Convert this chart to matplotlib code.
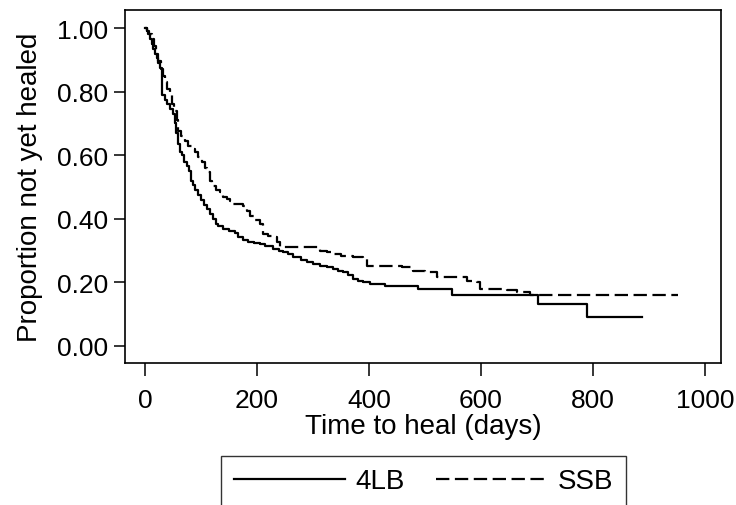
import matplotlib
matplotlib.use("Agg")
import matplotlib.pyplot as plt

# Kaplan-Meier step data (days, proportion not yet healed)
t_4lb = [0, 3, 6, 9, 12, 15, 18, 21, 24, 27, 31, 36, 40, 45, 50, 54, 56, 59, 63, 66,
         70, 75, 79, 83, 86, 90, 95, 100, 105, 110, 116, 122, 127, 131, 140, 150, 161,
         166, 175, 184, 195, 205, 215, 229, 240, 247, 255, 265, 278, 289, 300, 312, 325,
         336, 345, 354, 362, 372, 380, 390, 402, 428, 488, 548, 702, 789, 887]
s_4lb = [1.0, 0.99, 0.98, 0.965, 0.95, 0.935, 0.92, 0.905, 0.89, 0.875, 0.79, 0.775,
         0.76, 0.745, 0.73, 0.70, 0.67, 0.635, 0.61, 0.60, 0.58, 0.565, 0.55, 0.52, 0.505,
         0.49, 0.475, 0.46, 0.445, 0.43, 0.415, 0.40, 0.385, 0.377, 0.368, 0.362, 0.355,
         0.343, 0.335, 0.327, 0.324, 0.321, 0.313, 0.305, 0.30, 0.296, 0.288, 0.28, 0.272,
         0.264, 0.258, 0.252, 0.247, 0.242, 0.237, 0.232, 0.222, 0.21, 0.205, 0.20, 0.195,
         0.189, 0.178, 0.16, 0.132, 0.091, 0.091]

t_ssb = [0, 4, 8, 12, 16, 20, 24, 28, 32, 36, 40, 44, 48, 52, 57, 59, 64, 71, 77, 84,
         89, 95, 102, 107, 111, 116, 120, 127, 134, 140, 146, 152, 157, 175, 182, 188,
         196, 205, 211, 220, 229, 235, 241, 312, 325, 336, 350, 372, 389, 396, 459, 479,
         500, 521, 575, 593, 598, 646, 664, 688, 952]
s_ssb = [1.0, 0.99, 0.98, 0.965, 0.945, 0.92, 0.895, 0.87, 0.85, 0.83, 0.81, 0.79, 0.76,
         0.74, 0.71, 0.675, 0.66, 0.645, 0.63, 0.62, 0.61, 0.595, 0.578, 0.56, 0.547, 0.52,
         0.503, 0.49, 0.484, 0.47, 0.462, 0.455, 0.447, 0.44, 0.425, 0.409, 0.395, 0.384,
         0.352, 0.347, 0.343, 0.327, 0.311, 0.30, 0.296, 0.289, 0.283, 0.28, 0.274, 0.252,
         0.248, 0.236, 0.233, 0.217, 0.204, 0.20, 0.18, 0.176, 0.17, 0.16, 0.16]

x_ticks = [0, 200, 400, 600, 800, 1000]
y_ticks = [0.0, 0.2, 0.4, 0.6, 0.8, 1.0]

plt.rcParams["font.family"] = ["Liberation Sans", "DejaVu Sans"]
fs = 19
fs_title = 20

fig = plt.figure(figsize=(7.36, 5.06), dpi=100)
ax = fig.add_axes([125 / 736, 1 - 364 / 506, 596 / 736, 353 / 506])

ax.step(t_4lb, s_4lb, where="post", color="black", lw=1.6, label="4LB")
ax.step(t_ssb, s_ssb, where="post", color="black", lw=1.6,
        dashes=(6, 2.5), label="SSB")

ax.set_xlim(-35.7, 1028.6)
ax.set_ylim(-0.0535, 1.057)
ax.set_xticks(x_ticks)
ax.set_yticks(y_ticks)
ax.set_yticklabels([f"{v:.2f}" for v in y_ticks])
ax.tick_params(axis="both", labelsize=fs, width=1.1, direction="out")
ax.tick_params(axis="y", length=8, pad=4)
ax.tick_params(axis="x", length=9, pad=9)
for sp in ax.spines.values():
    sp.set_linewidth(1.2)

ax.set_xlabel("Time to heal (days)", fontsize=fs_title, labelpad=1)
ax.set_ylabel("Proportion not yet healed", fontsize=fs_title, labelpad=10)

leg = fig.legend(loc="upper center", bbox_to_anchor=(423.5 / 736, 1 - 457 / 506),
                 ncol=2, fontsize=fs_title, frameon=True, fancybox=False,
                 edgecolor="black", handlelength=4.0, handletextpad=0.4,
                 columnspacing=1.1, borderpad=0.45, borderaxespad=0)
leg.get_frame().set_linewidth(1.0)

fig.savefig("out.png", dpi=100)
